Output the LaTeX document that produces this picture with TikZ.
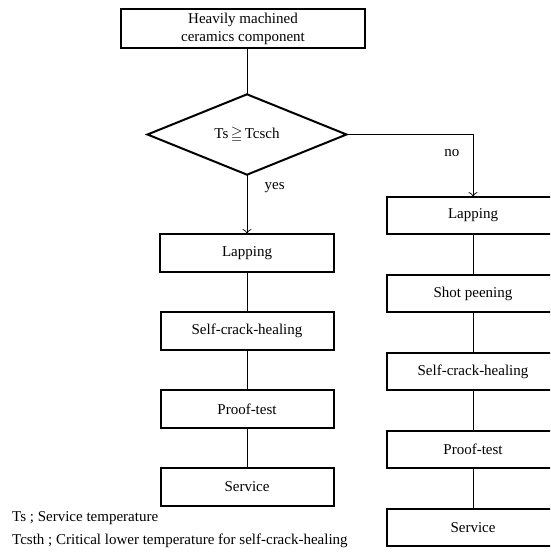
\documentclass[tikz,border=0pt]{standalone}
\usepackage{fontspec}
\setmainfont{Liberation Serif}
\usepackage{amssymb}
\usetikzlibrary{shapes.geometric,positioning,arrows.meta}

\begin{document}
\begin{tikzpicture}[x=1pt,y=-1pt,font=\fontsize{15}{17}\selectfont]
	\tikzstyle{box}=[draw,line width=2pt,minimum height=38pt,inner sep=0pt,outer sep=0pt,align=center]
	\tikzstyle{link}=[draw,line width=0.7pt]
	\useasboundingbox (0,0) rectangle (550,554);
	\clip (0,0) rectangle (550,554);
	\node[box,minimum width=244pt,minimum height=39pt] (comp) at (243,28.5) {Heavily machined\\[1pt]ceramics component};
	\node[draw,diamond,line width=2pt,outer sep=0pt,minimum width=199pt,minimum height=67pt,inner sep=0pt] (cond) at (247,134.5) {Ts$\,\geqq\,$Tcsch};
	% yes branch
	\node[box,minimum width=174pt] (lapL) at (247,253) {Lapping};
	\node[box,minimum width=173pt,below=40pt of lapL] (healL) {Self-crack-healing};
	\node[box,minimum width=173pt,below=40pt of healL] (proofL) {Proof-test};
	\node[box,minimum width=173pt,below=40pt of proofL] (servL) {Service};
	% no branch
	\node[box,minimum width=172pt,minimum height=37pt] (lapR) at (473,215.5) {Lapping};
	\node[box,minimum width=172pt,minimum height=37pt,below=41pt of lapR] (shot) {Shot peening};
	\node[box,minimum width=172pt,minimum height=37pt,below=41pt of shot] (healR) {Self-crack-healing};
	\node[box,minimum width=172pt,minimum height=37pt,below=41pt of healR] (proofR) {Proof-test};
	\node[box,minimum width=172pt,minimum height=37pt,below=41pt of proofR] (servR) {Service};
	\coordinate (turn) at (cond.east -| lapR.north);
	\draw[link] (comp.south -| cond.north) -- (cond.north);
	\draw[link,-{To[length=5pt,width=9pt]}] (cond.south) -- node[right=14pt,pos=0.22] {yes} (lapL.north);
	\draw[link,-{To[length=5pt,width=9pt]}] (cond.east) -- (turn) -- node[left=10pt,pos=0.3] {no} (lapR.north);
	\draw[link] (lapL) -- (healL) (healL) -- (proofL) (proofL) -- (servL);
	\draw[link] (lapR) -- (shot) (shot) -- (healR) (healR) -- (proofR) (proofR) -- (servR);
	% notes
	\node[anchor=west,inner sep=0pt] (note1) at (12,518) {Ts ; Service temperature};
	\node[anchor=west,inner sep=0pt] (note2) at (12,541) {Tcsth ; Critical lower temperature for self-crack-healing};
\end{tikzpicture}
\end{document}
